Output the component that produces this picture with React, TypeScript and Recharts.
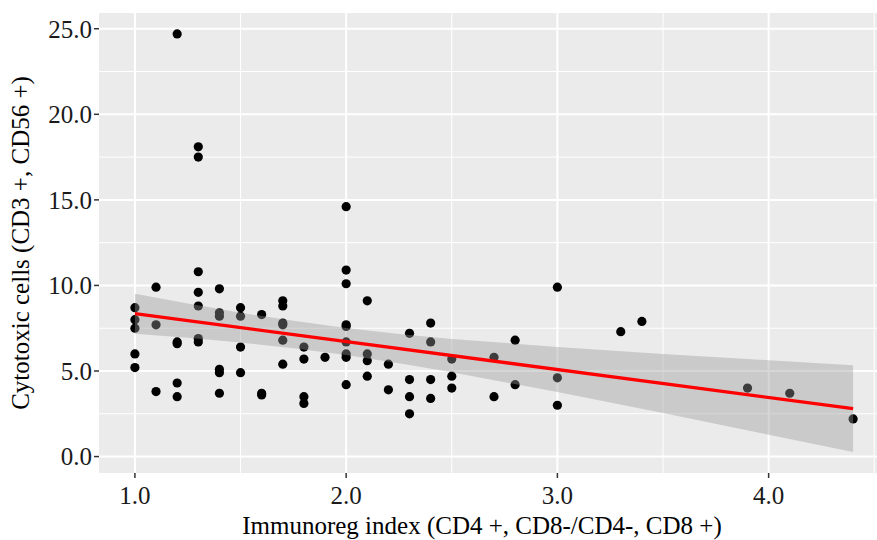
import React from "react";
import {
  ComposedChart,
  Scatter,
  Area,
  Line,
  XAxis,
  YAxis,
  CartesianGrid,
  ReferenceLine,
  Label,
} from "recharts";

// observed points (immunoreg index, cytotoxic cells)
const pointX = [
  1.0, 1.0, 1.0, 1.0, 1.0,
  1.1, 1.1, 1.1,
  1.2, 1.2, 1.2, 1.2, 1.2,
  1.3, 1.3, 1.3, 1.3, 1.3, 1.3, 1.3,
  1.4, 1.4, 1.4, 1.4, 1.4, 1.4,
  1.5, 1.5, 1.5, 1.5,
  1.6, 1.6, 1.6,
  1.7, 1.7, 1.7, 1.7, 1.7, 1.7,
  1.8, 1.8, 1.8, 1.8,
  1.9,
  2.0, 2.0, 2.0, 2.0, 2.0, 2.0, 2.0, 2.0, 2.0,
  2.1, 2.1, 2.1, 2.1,
  2.2, 2.2,
  2.3, 2.3, 2.3, 2.3,
  2.4, 2.4, 2.4, 2.4,
  2.5, 2.5, 2.5,
  2.7, 2.7,
  2.8, 2.8,
  3.0, 3.0, 3.0,
  3.3, 3.4, 3.9, 4.1, 4.4,
];
const pointY = [
  8.7, 8.0, 7.5, 6.0, 5.2,
  9.9, 7.7, 3.8,
  24.7, 6.7, 6.6, 4.3, 3.5,
  18.1, 17.5, 10.8, 9.6, 8.8, 6.9, 6.7,
  9.8, 8.4, 8.2, 5.1, 4.9, 3.7,
  8.7, 8.2, 6.4, 4.9,
  8.3, 3.7, 3.6,
  9.1, 8.8, 7.8, 7.7, 6.8, 5.4,
  6.4, 5.7, 3.5, 3.1,
  5.8,
  14.6, 10.9, 10.1, 7.7, 7.6, 6.7, 6.0, 5.8, 4.2,
  9.1, 6.0, 5.6, 4.7,
  5.4, 3.9,
  7.2, 4.5, 3.5, 2.5,
  7.8, 6.7, 4.5, 3.4,
  5.7, 4.7, 4.0,
  5.8, 3.5,
  6.8, 4.2,
  9.9, 4.6, 3.0,
  7.3, 7.9, 4.0, 3.7, 2.2,
];

// linear fit and its confidence band
const bandX = [1.0, 1.25, 1.5, 1.75, 2.0, 2.25, 2.5, 3.0, 3.5, 4.0, 4.4];
const bandLow = [7.18, 6.94, 6.66, 6.33, 5.93, 5.46, 4.93, 3.77, 2.54, 1.28, 0.26];
const bandHigh = [9.52, 8.94, 8.4, 7.93, 7.51, 7.16, 6.87, 6.41, 6.0, 5.63, 5.34];
const fitX = [1.0, 4.4];
const fitY = [8.35, 2.8];

const xTicks = [1, 2, 3, 4];
const xMinor = [1.5, 2.5, 3.5, 4.5];
const yTicks = [0, 5, 10, 15, 20, 25];
const yMinor = [2.5, 7.5, 12.5, 17.5, 22.5];

const points = pointX.map((x, i) => ({ x, y: pointY[i] }));
const bandRows = bandX.map((x, i) => {
  const k = fitX.indexOf(x);
  return { x, band: [bandLow[i], bandHigh[i]], fit: k >= 0 ? fitY[k] : null };
});

const FONT = "'Liberation Serif', 'DejaVu Serif', serif";
const tickStyle = { fontSize: 25, fill: "#1a1a1a", fontFamily: FONT };

const Dot = (props: any) => <circle cx={props.cx} cy={props.cy} r={4.6} fill="#000" />;

export default function App() {
  return (
    <div style={{ position: "absolute", left: 0, top: 0, width: 877, height: 540, background: "#fff" }}>
      <ComposedChart
        width={877}
        height={540}
        data={bandRows}
        margin={{ top: 13, right: 0, bottom: 0, left: 0 }}
      >
        <CartesianGrid fill="#EBEBEB" horizontal={false} vertical={false} stroke="none" />
        {xMinor.map((v) => (
          <ReferenceLine key={"xm" + v} x={v} stroke="#fff" strokeWidth={1} zIndex={-50} />
        ))}
        {yMinor.map((v) => (
          <ReferenceLine key={"ym" + v} y={v} stroke="#fff" strokeWidth={1} zIndex={-50} />
        ))}
        {xTicks.map((v) => (
          <ReferenceLine key={"xM" + v} x={v} stroke="#fff" strokeWidth={2} zIndex={-40} />
        ))}
        {yTicks.map((v) => (
          <ReferenceLine key={"yM" + v} y={v} stroke="#fff" strokeWidth={2} zIndex={-40} />
        ))}
        <XAxis
          type="number"
          dataKey="x"
          domain={[0.83, 4.513]}
          allowDataOverflow
          ticks={xTicks}
          tickFormatter={(v: number) => v.toFixed(1)}
          axisLine={false}
          tickLine={{ stroke: "#333", strokeWidth: 1.5 }}
          tickSize={5}
          tickMargin={8}
          height={67}
          tick={tickStyle}
        >
          <Label
            value="Immunoreg index (CD4 +, CD8-/CD4-, CD8 +)"
            position="insideBottom"
            offset={6.5}
            dx={-6}
            style={{ fontSize: 25, fill: "#000", fontFamily: FONT }}
          />
        </XAxis>
        <YAxis
          type="number"
          dataKey="y"
          domain={[-0.96, 25.92]}
          allowDataOverflow
          ticks={yTicks}
          tickFormatter={(v: number) => v.toFixed(1)}
          axisLine={false}
          tickLine={{ stroke: "#333", strokeWidth: 1.5 }}
          tickSize={5}
          tickMargin={2}
          width={99}
          tick={tickStyle}
        >
          <Label
            value="Cytotoxic cells (CD3 +, CD56 +)"
            angle={-90}
            position="insideLeft"
            offset={20}
            style={{ fontSize: 25, fill: "#000", fontFamily: FONT, textAnchor: "middle" }}
          />
        </YAxis>
        <Scatter data={points} dataKey="y" shape={Dot} isAnimationActive={false} zIndex={50} />
        <Area
          dataKey="band"
          type="linear"
          stroke="none"
          fill="#999999"
          fillOpacity={0.4}
          isAnimationActive={false}
          zIndex={100}
        />
        <Line
          dataKey="fit"
          type="linear"
          stroke="#FF0000"
          strokeWidth={3.3}
          dot={false}
          activeDot={false}
          connectNulls
          isAnimationActive={false}
          zIndex={400}
        />
      </ComposedChart>
    </div>
  );
}
